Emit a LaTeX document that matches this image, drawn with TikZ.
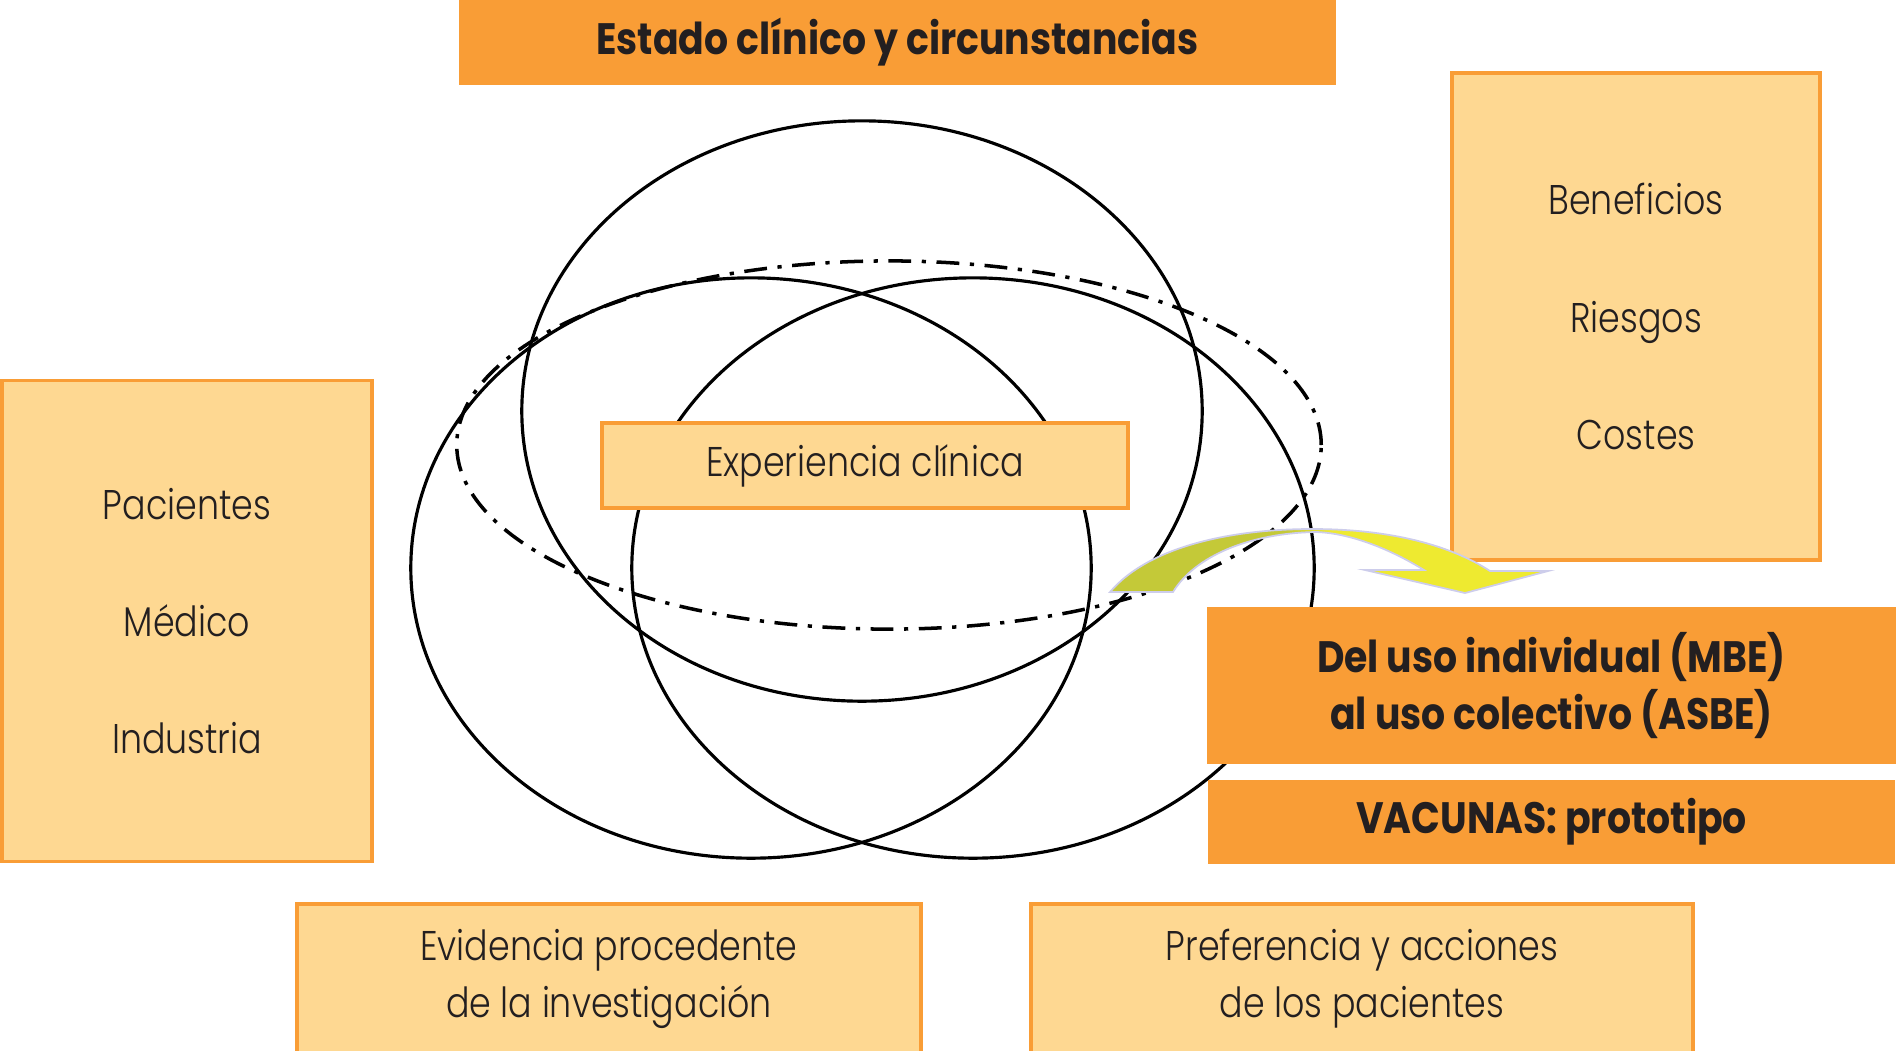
\documentclass[tikz,border=0pt]{standalone}
\usepackage{fontspec}
\newfontfamily\bookface{Poppins Light}[FakeStretch=0.84]
\newfontfamily\heavyface{Poppins Bold}[FakeStretch=0.86]
\usetikzlibrary{positioning}
\definecolor{boxorange}{RGB}{249,157,54}
\definecolor{boxcream}{RGB}{254,216,146}
\definecolor{inkdark}{RGB}{35,31,32}
\definecolor{bendolive}{RGB}{196,201,56}
\definecolor{bendyellow}{RGB}{238,234,48}
\definecolor{bendrim}{RGB}{205,205,235}
\pgfdeclarehorizontalshading{bendshade}{100bp}{color(0bp)=(bendolive); color(45bp)=(bendolive); color(50bp)=(bendyellow); color(100bp)=(bendyellow)}

\begin{document}
\begin{tikzpicture}[
    x=0.01cm, y=-0.01cm,
    lightbox/.style={draw=boxorange, line width=1pt, fill=boxcream, align=center, inner sep=0pt, text=inkdark, font=\bookface\fontsize{11.8}{16.2}\selectfont},
    listbox/.style={lightbox, font=\bookface\fontsize{11.8}{33.3}\selectfont},
    darkbox/.style={fill=boxorange, align=center, inner sep=0pt, text=inkdark, font=\heavyface\fontsize{12.5}{16.2}\selectfont},
    ring/.style={line width=0.9pt}
]
    \useasboundingbox (0,0) rectangle (1896,1050);

    % three overlapping circles and the dash-dot ellipse
    \draw[ring] (862,411) ellipse [x radius=3.40cm, y radius=2.90cm];
    \draw[ring] (751,568) ellipse [x radius=3.40cm, y radius=2.90cm];
    \draw[ring] (973,568) ellipse [x radius=3.41cm, y radius=2.90cm];
    \draw[ring, line width=1pt, dash pattern=on 6.5pt off 3pt on 1.2pt off 3pt] (889,445) ellipse [x radius=4.32cm, y radius=1.84cm];

    \node[darkbox, minimum width=8.77cm, minimum height=0.85cm] (estado) at (897.5,42.5) {Estado clínico y circunstancias};
    \node[listbox, minimum width=3.68cm, minimum height=4.87cm] (factores) at (1636,316.5) {Beneficios\\Riesgos\\Costes};
    \node[listbox, minimum width=3.70cm, minimum height=4.81cm] (actores) at (187,621) {Pacientes\\Médico\\Industria};
    \node[lightbox, minimum width=5.26cm, minimum height=0.85cm] (experiencia) at (865,465.5) {Experiencia clínica};
    \node[darkbox, minimum width=6.89cm, minimum height=1.57cm] (uso) at (1551.5,685.5) {Del uso individual (MBE)\\al uso colectivo (ASBE)};
    \node[darkbox, minimum width=6.86cm, minimum height=0.83cm, below=0.15cm of uso] (vacunas) {VACUNAS: prototipo};
    \node[lightbox, minimum width=6.24cm, minimum height=1.50cm] (evidencia) at (609,979) {Evidencia procedente\\de la investigación};
    \node[lightbox, minimum width=6.62cm, minimum height=1.50cm, right=1.06cm of evidencia] (preferencia) {Preferencia y acciones\\de los pacientes};

    % bent arrow
    \shade[shading=bendshade, draw=bendrim, line width=0.5pt]
        (1110,592) .. controls (1150,545) and (1235,529) .. (1312,529)
        .. controls (1390,529) and (1450,545) .. (1490,571)
        -- (1548,571) -- (1465,593) -- (1365,570) -- (1424,570)
        .. controls (1390,549) and (1350,533) .. (1316,532)
        .. controls (1250,533) and (1195,556) .. (1173,592) -- cycle;
\end{tikzpicture}
\end{document}
